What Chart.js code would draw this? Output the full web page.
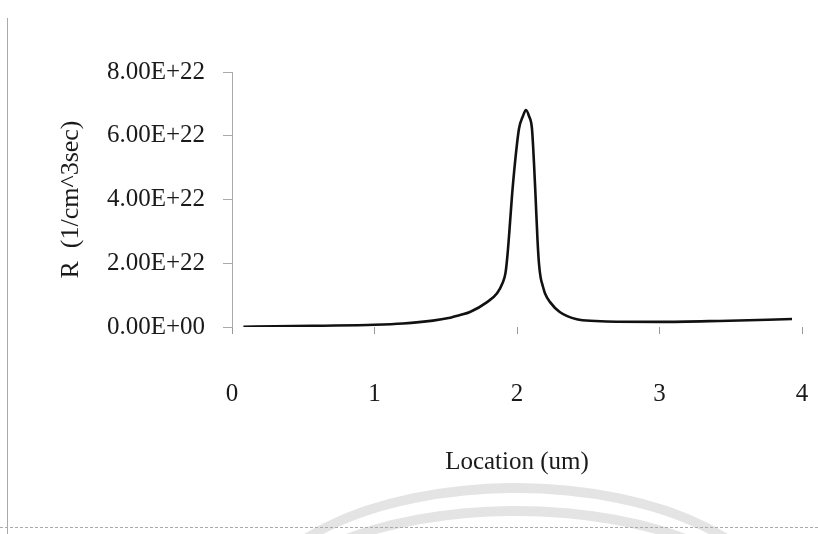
<!DOCTYPE html>
<html>
<head>
<meta charset="utf-8">
<script src="https://cdn.jsdelivr.net/npm/chart.js@4.4.0/dist/chart.umd.min.js"></script>
<style>
  html, body { margin: 0; padding: 0; background: #fff; }
  #wrap { position: relative; width: 818px; height: 534px; overflow: hidden; }
  .ring { position: absolute; border: 10px solid #e4e4e4; border-radius: 50%; box-sizing: border-box; }
  #frameLeft { position: absolute; left: 7px; top: 18px; width: 0; height: 516px; border-left: 1px solid #aaa; }
  #frameBottom { position: absolute; left: 0; top: 527px; width: 818px; height: 0; border-top: 1px dashed #aaa; }
  canvas { position: absolute; left: 0; top: 0; }
</style>
</head>
<body>
<div id="wrap">
  <div class="ring" style="left:244px; top:483px; width:544px; height:274px;"></div>
  <div class="ring" style="left:257px; top:506px; width:518px; height:228px;"></div>
  <div id="frameLeft"></div>
  <div id="frameBottom"></div>
  <canvas id="chart" width="818" height="534"></canvas>
</div>
<script>
// Recombination rate profile
const locations = [0.08, 0.3, 0.6, 1.0, 1.2, 1.41, 1.52, 1.60, 1.67, 1.79, 1.86, 1.898, 1.919, 1.933, 1.947, 1.965, 1.986, 2.014, 2.042, 2.063, 2.084, 2.105, 2.119, 2.130, 2.144, 2.154, 2.166, 2.180, 2.196, 2.232, 2.30, 2.42, 2.55, 2.70, 3.0, 3.42, 3.93];
const rates = [0.01e22, 0.02e22, 0.04e22, 0.07e22, 0.11e22, 0.20e22, 0.28e22, 0.375e22, 0.47e22, 0.78e22, 1.06e22, 1.375e22, 1.69e22, 2.25e22, 3.03e22, 4.12e22, 5.16e22, 6.22e22, 6.62e22, 6.81e22, 6.62e22, 6.22e22, 5.16e22, 4.12e22, 2.72e22, 2.0e22, 1.55e22, 1.3e22, 1.06e22, 0.78e22, 0.47e22, 0.24e22, 0.19e22, 0.165e22, 0.16e22, 0.19e22, 0.25e22];

const xTicks = [0, 1, 2, 3, 4];
const yTicks = [0, 2e22, 4e22, 6e22, 8e22];

const points = locations.map((x, i) => ({ x: x, y: rates[i] }));

function sciLabel(v) {
    if (v === 0) return '0.00E+00';
    const parts = v.toExponential(2).split('e');
    const sign = parts[1][0];
    let exp = parts[1].slice(1);
    if (exp.length < 2) exp = '0' + exp;
    return parts[0] + 'E' + sign + exp;
}

const serif = 'Liberation Serif';
const ink = '#1a1a1a';

const ctx = document.getElementById('chart').getContext('2d');
const chart = new Chart(ctx, {
    type: 'scatter',
    data: {
        datasets: [{
            data: points,
            showLine: true,
            borderColor: '#111',
            borderWidth: 2.6,
            pointRadius: 0,
            cubicInterpolationMode: 'monotone',
            fill: false
        }]
    },
    options: {
        responsive: false,
        animation: false,
        layout: {
            padding: { left: 0, top: 72, right: 16, bottom: 0 }
        },
        plugins: {
            legend: { display: false },
            tooltip: { enabled: false }
        },
        scales: {
            x: {
                type: 'linear',
                min: 0,
                max: 4,
                afterBuildTicks: function(scale) {
                    scale.ticks = xTicks.map(v => ({ value: v }));
                },
                afterFit: function(scale) { scale.height = 207; },
                border: { display: false },
                grid: {
                    display: true,
                    drawOnChartArea: false,
                    drawTicks: true,
                    // long tick length pushes the labels down; the dash keeps only a short visible mark
                    tickLength: 52,
                    tickBorderDash: [7, 400],
                    color: '#999'
                },
                ticks: {
                    padding: 0,
                    color: ink,
                    font: { family: serif, size: 25 }
                },
                title: {
                    display: true,
                    text: 'Location (um)',
                    color: ink,
                    padding: { top: 57, bottom: 57 },
                    font: { family: serif, size: 25 }
                }
            },
            y: {
                type: 'linear',
                min: 0,
                max: 8e22,
                afterBuildTicks: function(scale) {
                    scale.ticks = yTicks.map(v => ({ value: v }));
                },
                afterFit: function(scale) { scale.width = 232; },
                border: { display: true, color: '#aaa', width: 1 },
                grid: {
                    display: true,
                    drawOnChartArea: false,
                    drawTicks: true,
                    tickLength: 9,
                    color: '#aaa'
                },
                ticks: {
                    padding: 18,
                    color: ink,
                    font: { family: serif, size: 25 },
                    callback: function(value) { return sciLabel(value); }
                },
                title: {
                    display: true,
                    text: 'R  (1/cm^3sec)',
                    color: ink,
                    padding: { top: 56, bottom: 56 },
                    font: { family: serif, size: 26 }
                }
            }
        }
    }
});
</script>
</body>
</html>
